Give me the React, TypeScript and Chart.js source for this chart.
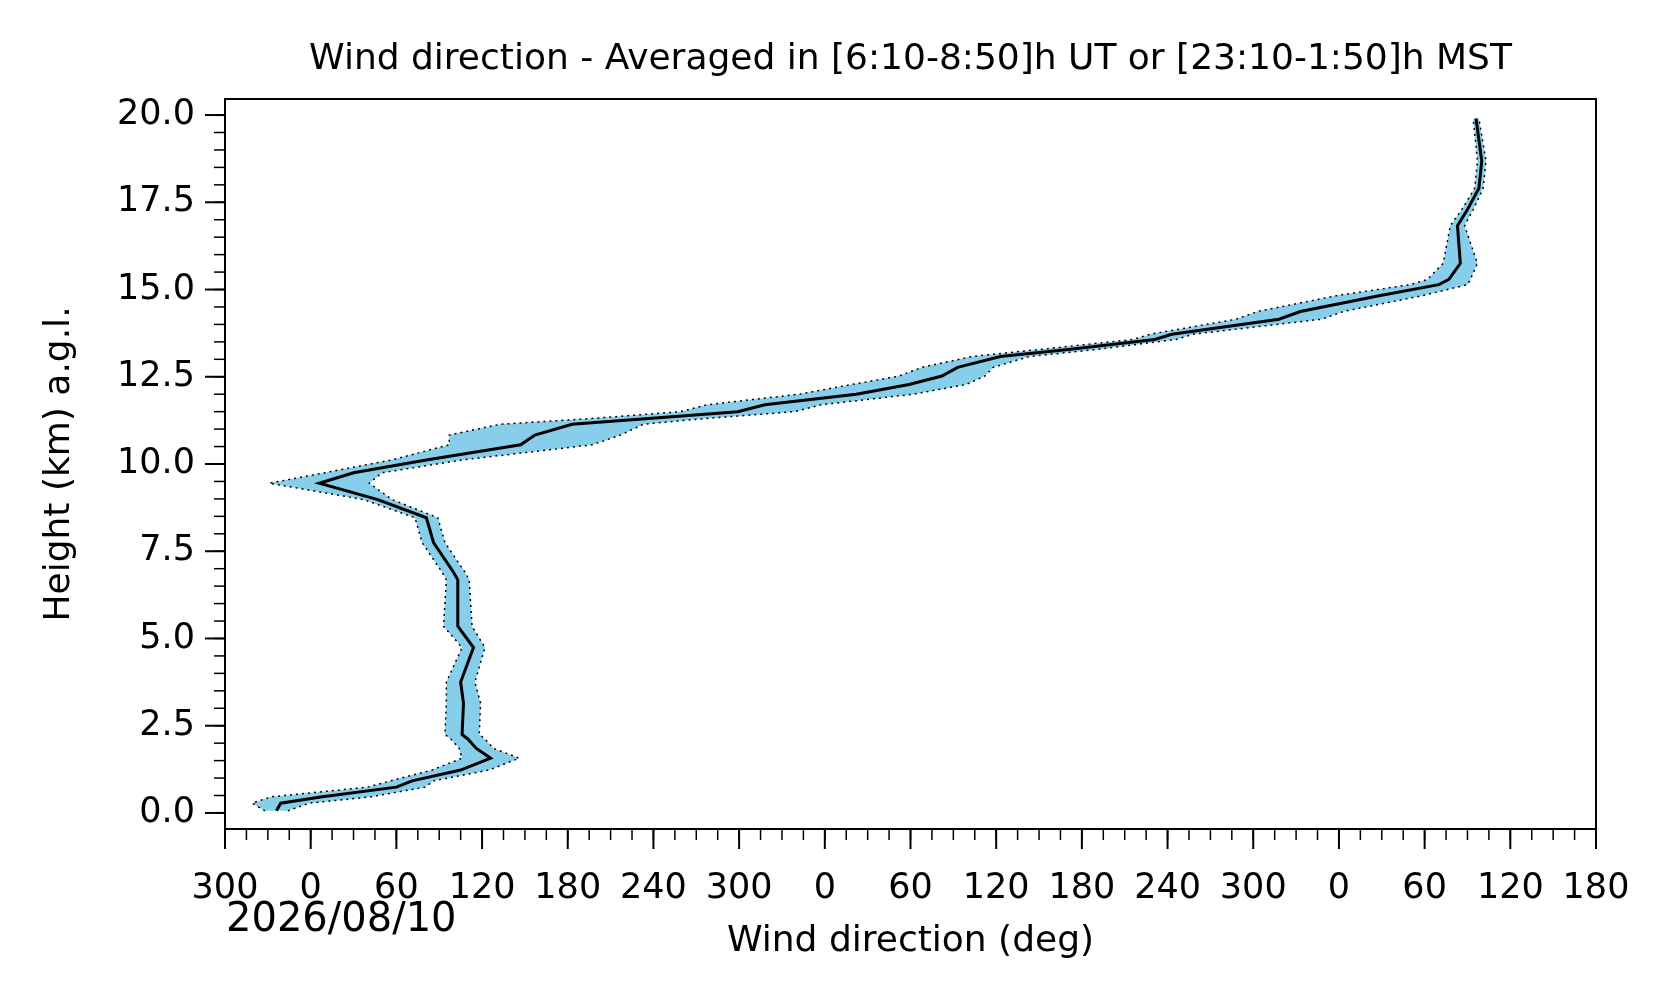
import React, { useEffect, useRef } from "react";
import Chart from "chart.js/auto";

const heights = [0.06,0.28,0.46,0.74,0.92,1.23,1.57,1.85,2.12,2.25,3.14,3.75,4.74,5.35,6.68,6.9,7.75,8.46,8.98,9.45,9.75,10.12,10.55,10.83,11.14,11.29,11.5,11.7,12.0,12.28,12.52,12.77,13.08,13.29,13.57,13.72,14.15,14.37,14.83,15.14,15.29,15.75,16.83,17.29,17.9,18.68,19.9];
const meanDir = [-24,-21,7,60,71,105,126,116,110,106,107,105,114,103,103,100,86,81,47,6,30,82,147,157,183,232,299,318,382,419,442,453,483,532,591,603,678,693,749,790,797,805,803,810,818,820,816];
const spread = [8,20,35,20,15,20,20,12,12,12,12,10,8,10,8,8,8,8,10,35,20,25,50,60,50,40,40,40,40,40,30,25,20,20,15,15,30,30,30,20,15,12,5,4,3,3,2];
const xTicks = [-60,0,60,120,180,240,300,360,420,480,540,600,660,720,780,840,900];
const yTicks = [0,2.5,5,7.5,10,12.5,15,17.5,20];
const title = "Wind direction - Averaged in [6:10-8:50]h UT or [23:10-1:50]h MST";

const FONT = "'DejaVu Sans', sans-serif";

const bandPlugin = {
  id: "bandPlugin",
  beforeDatasetsDraw(chart: any) {
    const { ctx, scales, chartArea: a } = chart;
    const xs = scales.x, ys = scales.y;
    ctx.save();
    ctx.beginPath();
    ctx.rect(a.left, a.top, a.right - a.left, a.bottom - a.top);
    ctx.clip();
    ctx.beginPath();
    heights.forEach((h, i) => {
      const px = xs.getPixelForValue(meanDir[i] - spread[i]);
      const py = ys.getPixelForValue(h);
      if (i === 0) ctx.moveTo(px, py); else ctx.lineTo(px, py);
    });
    for (let i = heights.length - 1; i >= 0; i--) {
      ctx.lineTo(xs.getPixelForValue(meanDir[i] + spread[i]), ys.getPixelForValue(heights[i]));
    }
    ctx.closePath();
    ctx.fillStyle = "#87CEEB";
    ctx.fill();
    ctx.restore();
  },
};

const axesPlugin = {
  id: "axesPlugin",
  afterDraw(chart: any) {
    const { ctx, chartArea: a, scales } = chart;
    const xs = scales.x, ys = scales.y;
    ctx.save();
    ctx.strokeStyle = "#000";
    ctx.fillStyle = "#000";
    ctx.lineWidth = 2;
    ctx.strokeRect(a.left, a.top, a.right - a.left, a.bottom - a.top);
    ctx.lineWidth = 1.5;
    for (let v = -60; v <= 900; v += 15) {
      const p = xs.getPixelForValue(v);
      ctx.beginPath(); ctx.moveTo(p, a.bottom); ctx.lineTo(p, a.bottom + 11); ctx.stroke();
    }
    for (let v = 0; v <= 20.4; v += 0.5) {
      const p = ys.getPixelForValue(v);
      ctx.beginPath(); ctx.moveTo(a.left, p); ctx.lineTo(a.left - 11, p); ctx.stroke();
    }
    ctx.lineWidth = 2;
    ctx.font = `35px ${FONT}`;
    ctx.textAlign = "center";
    ctx.textBaseline = "middle";
    xTicks.forEach((v) => {
      const p = xs.getPixelForValue(v);
      ctx.beginPath(); ctx.moveTo(p, a.bottom); ctx.lineTo(p, a.bottom + 20); ctx.stroke();
      const lab = String(((v % 360) + 360) % 360);
      ctx.fillText(lab, p, a.bottom + 60);
    });
    ctx.textAlign = "right";
    yTicks.forEach((v) => {
      const p = ys.getPixelForValue(v);
      ctx.beginPath(); ctx.moveTo(a.left, p); ctx.lineTo(a.left - 20, p); ctx.stroke();
      ctx.fillText(v.toFixed(1), a.left - 30, p);
    });
    ctx.textAlign = "center";
    ctx.font = `36px ${FONT}`;
    ctx.fillText(title, (a.left + a.right) / 2, 60);
    ctx.fillText("Wind direction (deg)", (a.left + a.right) / 2, 942);
    ctx.font = `40px ${FONT}`;
    ctx.textAlign = "left";
    ctx.fillText("2026/08/10", 226, 921);
    ctx.font = `36px ${FONT}`;
    ctx.translate(60, (a.top + a.bottom) / 2);
    ctx.rotate(-Math.PI / 2);
    ctx.textAlign = "center";
    ctx.fillText("Height (km) a.g.l.", 0, 0);
    ctx.restore();
  },
};

export default function App() {
  const ref = useRef<HTMLCanvasElement>(null);
  useEffect(() => {
    document.body.style.margin = "0";
    const lower = heights.map((h, i) => ({ x: meanDir[i] - spread[i], y: h }));
    const upper = heights.map((h, i) => ({ x: meanDir[i] + spread[i], y: h }));
    const mean = heights.map((h, i) => ({ x: meanDir[i], y: h }));
    const chart = new Chart(ref.current!, {
      type: "scatter",
      data: {
        datasets: [
          { data: lower, showLine: true, borderColor: "#000", borderWidth: 1.5, borderDash: [2, 4], pointRadius: 0, fill: false },
          { data: upper, showLine: true, borderColor: "#000", borderWidth: 1.5, borderDash: [2, 4], pointRadius: 0, fill: false },
          { data: mean, showLine: true, borderColor: "#000", borderWidth: 3, pointRadius: 0, fill: false },
        ],
      },
      options: {
        animation: false,
        responsive: false,
        layout: { padding: { left: 225, right: 80, top: 99, bottom: 174 } },
        plugins: { legend: { display: false }, tooltip: { enabled: false } },
        scales: {
          x: { type: "linear", min: -60, max: 900, display: false },
          y: { type: "linear", min: -0.46, max: 20.46, display: false },
        },
      },
      plugins: [bandPlugin, axesPlugin],
    });
    return () => chart.destroy();
  }, []);
  return <canvas ref={ref} width={1676} height={1003} style={{ display: "block", background: "#fff" }} />;
}
